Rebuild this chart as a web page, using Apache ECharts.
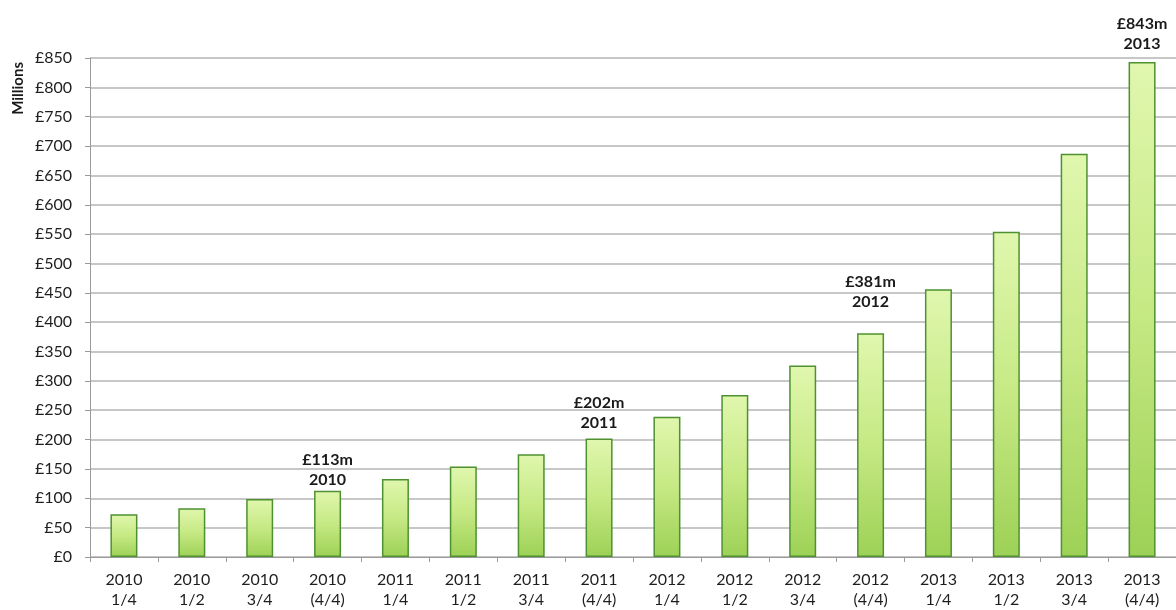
<!DOCTYPE html>
<html>
<head>
<meta charset="utf-8">
<title>Quarterly totals 2010–2013</title>
<script src="https://cdn.jsdelivr.net/npm/echarts@6/dist/echarts.min.js"></script>
<style>
  html, body { margin: 0; padding: 0; background: #ffffff; }
  #chart { width: 1176px; height: 610px; }
</style>
</head>
<body>
<div id="chart"></div>
<script>
// Category labels: year on the first line, quarter fraction on the second
const years = ['2010', '2010', '2010', '2010', '2011', '2011', '2011', '2011',
               '2012', '2012', '2012', '2012', '2013', '2013', '2013', '2013'];
const periods = ['1/4', '1/2', '3/4', '(4/4)', '1/4', '1/2', '3/4', '(4/4)',
                 '1/4', '1/2', '3/4', '(4/4)', '1/4', '1/2', '3/4', '(4/4)'];

// Cumulative value in £ millions
const values = [73, 83, 99, 113, 133, 154, 175, 202, 239, 276, 326, 381, 456, 554, 687, 843];

// Y axis range and step (£ millions)
const yMin = 0;
const yMax = 850;
const yStep = 50;

const categories = years.map((y, i) => y + '\n' + periods[i]);

// Year-end bars carry a callout; gap between bar top and callout text
const calloutGap = { 3: 1, 7: 6, 11: 21, 15: 8 };

const font = 'Lato, "Open Sans", "DejaVu Sans", sans-serif';

const barFill = new echarts.graphic.LinearGradient(0, 0, 0, 1, [
  { offset: 0, color: '#e0f7ae' },
  { offset: 0.5, color: '#c6e984' },
  { offset: 1, color: '#9dd156' }
]);

const seriesData = values.map((v, i) => {
  const item = { value: v };
  if (calloutGap[i] !== undefined) {
    item.label = {
      show: true,
      position: 'top',
      distance: calloutGap[i],
      formatter: '£' + v + 'm\n' + years[i],
      fontFamily: font,
      fontWeight: 'bold',
      fontSize: 16,
      lineHeight: 20,
      color: '#1a1a1a',
      align: 'center'
    };
  }
  return item;
});

const chart = echarts.init(document.getElementById('chart'), null, { renderer: 'canvas' });

chart.setOption({
  animation: false,
  backgroundColor: '#ffffff',
  grid: {
    left: 90,
    top: 58,
    width: 1091,
    height: 500,
    containLabel: false
  },
  xAxis: {
    type: 'category',
    data: categories,
    boundaryGap: true,
    axisLine: { show: true, lineStyle: { color: '#9a9a9a', width: 1 } },
    axisTick: { show: true, alignWithLabel: false, length: 5, lineStyle: { color: '#9a9a9a' } },
    axisLabel: {
      interval: 0,
      margin: 13,
      fontFamily: font,
      fontSize: 16,
      lineHeight: 20,
      color: '#1e1e1e',
      align: 'center'
    },
    splitLine: { show: false }
  },
  yAxis: {
    type: 'value',
    min: yMin,
    max: yMax,
    interval: yStep,
    axisLine: { show: true, lineStyle: { color: '#9a9a9a', width: 1 } },
    axisTick: { show: true, length: 5, lineStyle: { color: '#9a9a9a' } },
    axisLabel: {
      margin: 18,
      fontFamily: font,
      fontSize: 16,
      color: '#1e1e1e',
      formatter: v => '£' + v
    },
    splitLine: { show: true, lineStyle: { color: '#b4b4b4', width: 1.5 } }
  },
  graphic: [{
    type: 'text',
    left: 11,
    top: 62,
    rotation: Math.PI / 2,
    style: {
      text: 'Millions',
      font: 'bold 15px ' + font,
      fill: '#1a1a1a'
    }
  }],
  series: [{
    type: 'bar',
    data: seriesData,
    barWidth: 27,
    itemStyle: {
      color: barFill,
      borderColor: '#4f9130',
      borderWidth: 1.5
    },
    label: { show: false }
  }]
});
</script>
</body>
</html>
